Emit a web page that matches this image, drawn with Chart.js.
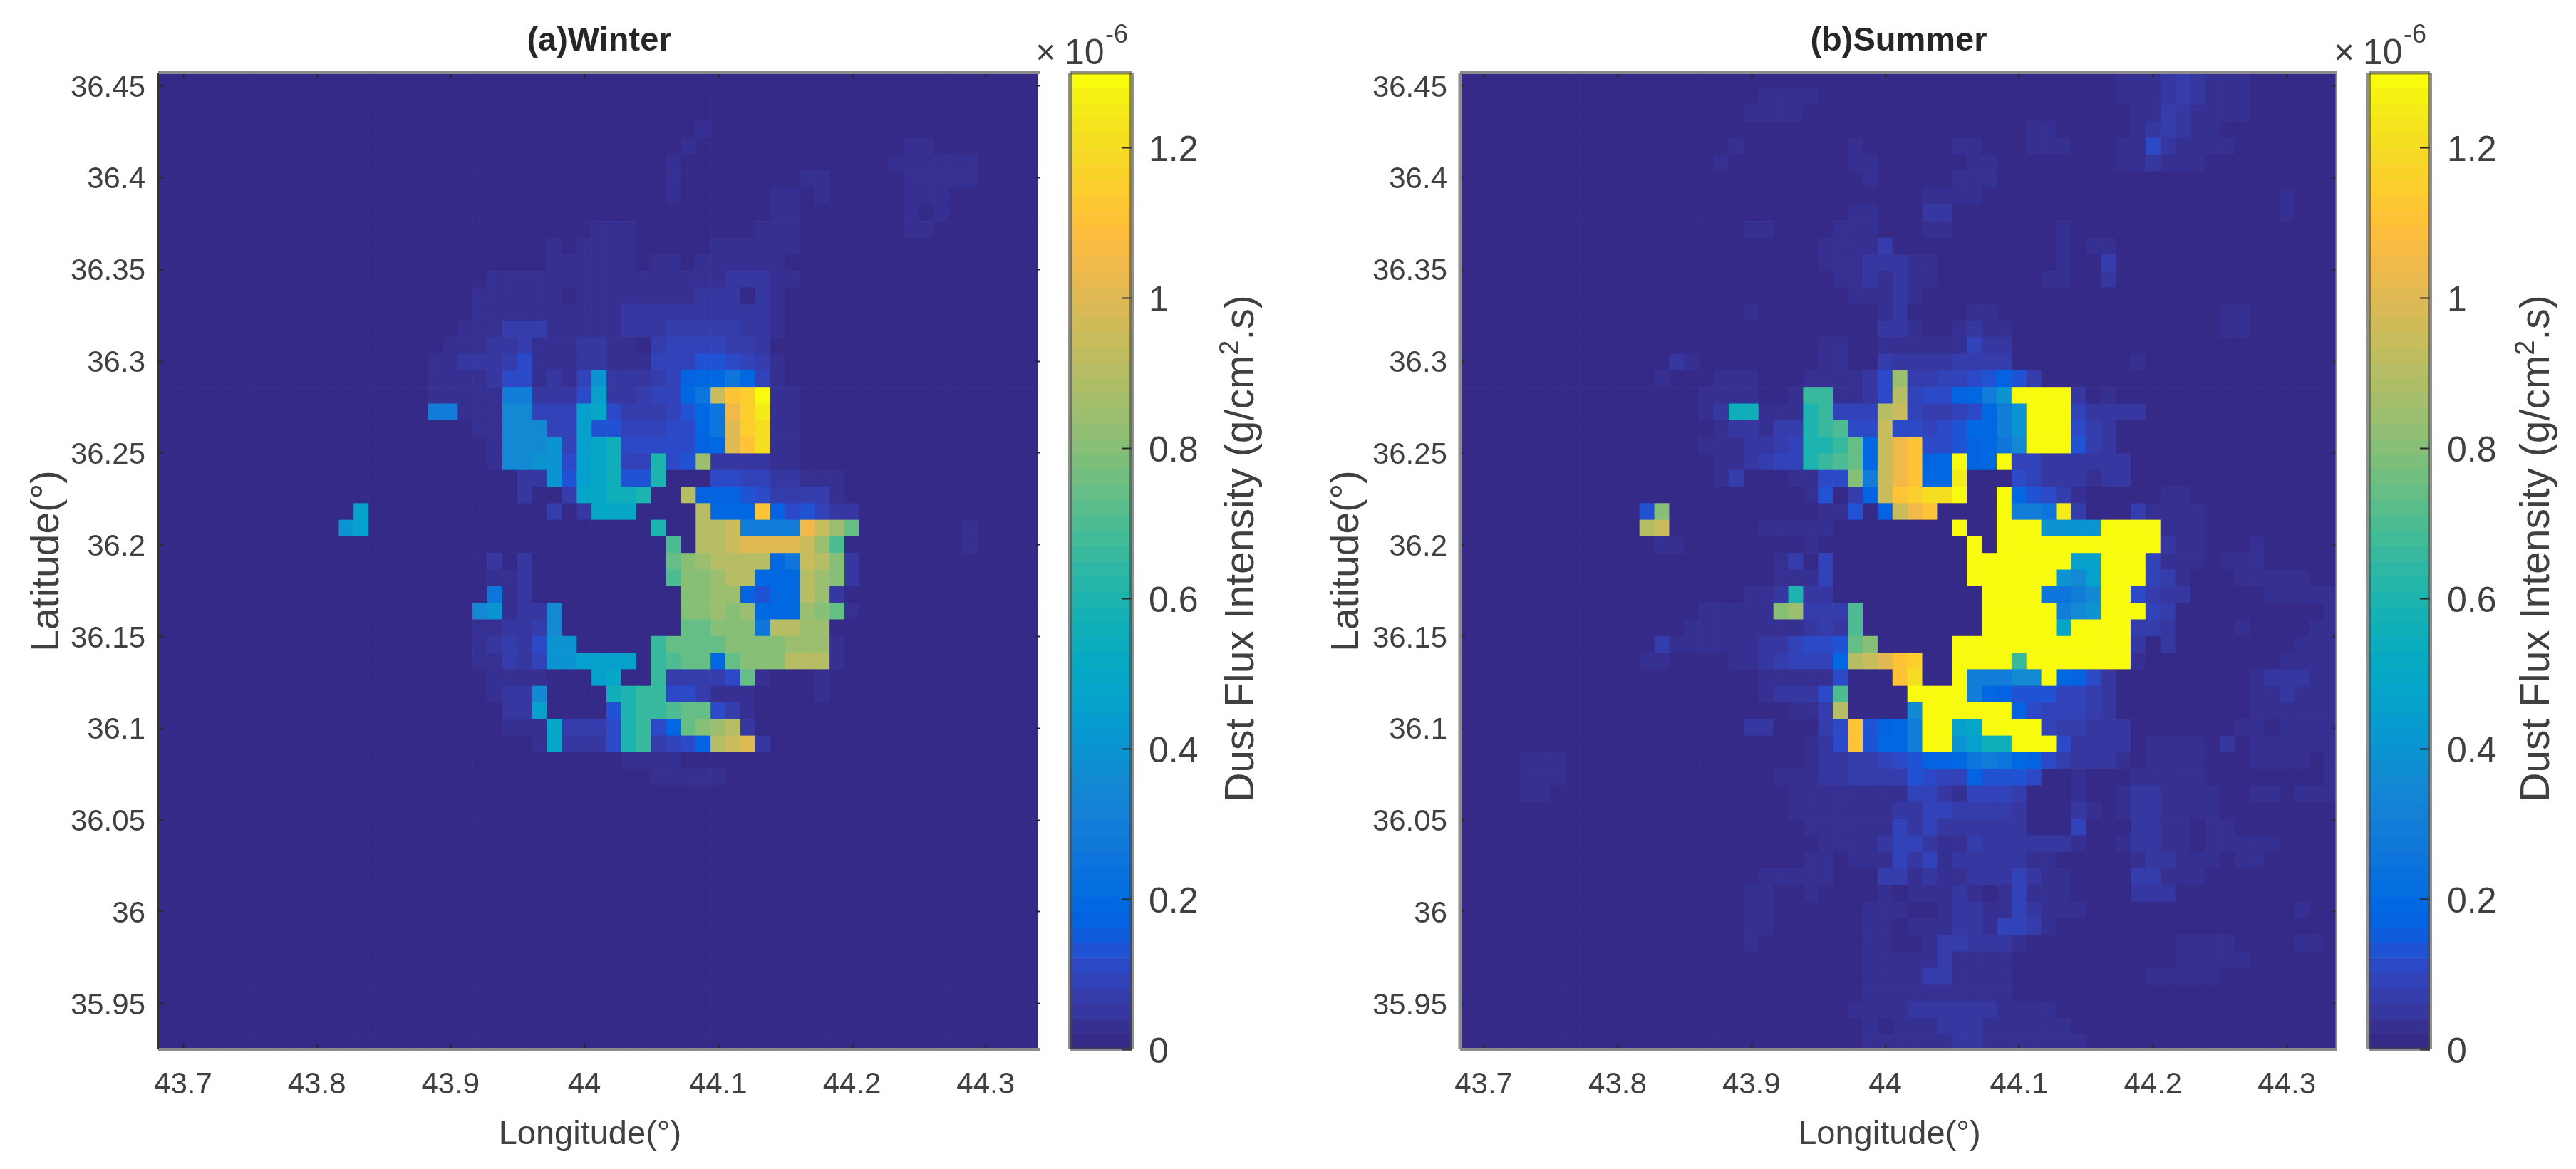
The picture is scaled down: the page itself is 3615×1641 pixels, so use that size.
<!DOCTYPE html>
<html>
<head>
<meta charset="utf-8">
<title>Dust Flux Intensity</title>
<script src="https://cdn.jsdelivr.net/npm/chart.js@4"></script>
<style>
  html, body { margin: 0; padding: 0; background: #fff; width: 3615px; height: 1641px; overflow: hidden; }
  canvas { position: absolute; top: 0; }
</style>
</head>
<body>
<canvas id="winterMap" width="1460" height="1641" style="left:0"></canvas>
<canvas id="winterBar" width="350" height="1641" style="left:1450px"></canvas>
<canvas id="summerMap" width="1450" height="1641" style="left:1830px"></canvas>
<canvas id="summerBar" width="343" height="1641" style="left:3272px"></canvas>
<script>
/* ---------- axes ---------- */
const lonTicks = [43.7, 43.8, 43.9, 44, 44.1, 44.2, 44.3];
const latTicks = [35.95, 36, 36.05, 36.1, 36.15, 36.2, 36.25, 36.3, 36.35, 36.4, 36.45];
const barTicks = [0, 0.2, 0.4, 0.6, 0.8, 1, 1.2];

// grid of the dust model: 60 columns, 59 rows from the top
const lonStart = 43.672, lonStep = 0.011119;
const latStart = 36.4575, latStep = 0.009045;
const colCount = 60, rowCount = 59;

// one character = one flux value (x 1e-6 g/cm2.s)
const levelChars = "0123456789abcdefghijklmnopqrstu";
const levelValues = [0, .03, .05, .07, .09, .11, .13, .17, .2, .25, .3, .35, .4, .45, .5, .55,
  .6, .65, .7, .75, .8, .85, .9, .95, 1, 1.05, 1.1, 1.15, 1.2, 1.25, 1.3];

/* ---------- winter cells: [row, first column, levels] (everything else is 0) ---------- */
const winterCells = [
  [3,37,"1"],[4,36,"1"],[4,51,"11"],[5,35,"1"],[5,50,"111111"],
  [6,35,"1"],[6,44,"11"],[6,51,"11111"],[7,35,"1"],[7,42,"11"],[7,45,"1"],[7,51,"111"],
  [8,42,"11"],[8,51,"1"],[8,53,"1"],[9,30,"111"],[9,41,"111"],[9,51,"11"],
  [10,27,"1"],[10,29,"1111"],[10,38,"111111"],[11,27,"111111"],[11,34,"11"],[11,37,"111111"],
  [12,23,"111111111111111122211"],
  [13,22,"1111110111111112220" + "21"],
  [14,22,"111111111122222222221"],
  [15,21,"11133311111222333332" + "21"],
  [16,20,"11122311122110344443" + "32"],
  [17,19,"1122235111221114446654" + "31"],
  [18,19,"11112551214c2223478898" + "41"],
  [19,19,"11111aa2225d22344" + "89nqru11"],
  [20,19,"aa111bb444de533346" + "89prt11"],
  [21,22,"11bbb44d6644455" + "89ors11"],
  [22,23,"1bbbc4def55555" + "78oqs11"],
  [23,23,"1bbcc5def44g56l222211"],
  [24,25,"22c6def66g00055" + "44" + "22111"],
  [25,25,"2003eeffg00m77765333" + "31"],
  [26,14,"d"],[26,27,"302eee0000m888q75642" + "2"],
  [27,13,"cd"],[27,34,"g"],[27,37,"mmnaaaapnlj"],[27,55,"1"],
  [28,35,"i0mmnoooonli"],[28,55,"1"],
  [29,23,"2"],[29,25,"2"],[29,35,"jklmmmm89nmk2"],
  [30,23,"112"],[30,35,"ikklmm888mlk2"],
  [31,23,"912"],[31,36,"kkll7688ml2"],
  [32,22,"bc122b"],[32,36,"kklkl888lkj1"],
  [33,22,"11223b"],[33,36,"jjkkk9mmll"],
  [34,22,"12325cc"],[34,34,"hjjjjkkkklll1"],
  [35,22,"11324ccdddd"],[35,34,"hijj8jkkkmmm1"],
  [36,23,"1111"],[36,30,"de"],[36,34,"h33335j1"],[36,45,"1"],
  [37,23,"122b"],[37,31,"fghh553111"],[37,45,"1"],
  [38,24,"22d"],[38,31,"6ghhijj531"],
  [39,24,"111e3335gh58jklm2"],
  [40,26,"1e2225gh3457mno2"],
  [41,32,"1111"],[42,34,"11111"]
];

/* ---------- summer cells ---------- */
const summerCells = [
  [0,45,"111232111"],[1,21,"1111"],[1,45,"111232111"],[2,20,"1111"],[2,46,"11321111"],
  [3,39,"11"],[3,46,"123211"],[4,19,"1"],[4,27,"1"],[4,34,"11"],[4,39,"111"],[4,45,"11521111"],
  [5,18,"1"],[5,27,"11"],[5,35,"11"],[5,45,"112111"],[6,28,"1"],[6,34,"111"],
  [7,32,"1111"],[7,56,"1"],[8,27,"11"],[8,32,"22"],[8,56,"1"],
  [9,20,"11"],[9,26,"111"],[9,32,"11"],[9,41,"1"],
  [10,25,"11113"],[10,41,"1"],[10,43,"11"],
  [11,25,"11122211"],[11,41,"1"],[11,44,"3"],
  [12,26,"1121211"],[12,40,"11"],[12,44,"2"],
  [13,27,"11121"],[14,20,"1"],[14,29,"12"],[14,35,"11"],[14,52,"11"],
  [15,29,"221"],[15,34,"1211"],[15,52,"11"],
  [16,25,"11"],[16,29,"111111422"],
  [17,15,"21"],[17,25,"11"],[17,29,"322223333"],[17,46,"1"],
  [18,14,"1"],[18,18,"111"],[18,24,"111125l334456763"],
  [19,17,"1111"],[19,23,"1hh1125m45578acuuuu2"],[19,44,"1"],
  [20,17,"12ff111gh444mn433458acuuu42222"],
  [21,18,"122133ghi55n5545688acuuu532"],
  [22,17,"1112234gghj8npq556789buuu632"],
  [23,18,"112344ghij8npq78u78u44222222"],
  [24,18,"13"],[24,23,"1155kanpq88t00054222122"],
  [25,24,"16037nqrssu00u86531"],[25,48,"11"],
  [26,13,"6k"],[26,25,"11607npq"],[26,37,"uaa9t3"],[26,46,"31111"],
  [27,13,"mn"],[27,21,"11111"],[27,34,"u"],[27,37,"uuu"],[27,40,"cccc"],[27,44,"uuuu"],[27,48,"111"],
  [28,14,"11"],[28,24,"1"],[28,35,"u0uuuuuuuuuuu"],[28,48,"211"],[28,54,"1"],
  [29,22,"13"],[29,25,"4"],[29,35,"uuuuuuu"],[29,42,"dd"],[29,44,"uuu"],[29,47,"4111"],[29,52,"111"],
  [30,22,"1114"],[30,35,"uuuuuu"],[30,41,"cbd"],[30,44,"uuu"],[30,47,"431"],[30,53,"11111"],
  [31,20,"112g22"],[31,36,"uuuu"],[31,40,"99ab"],[31,44,"uu"],[31,46,"5322"],[31,55,"11111"],
  [32,17,"11111"],[32,22,"kl"],[32,24,"333"],[32,27,"i"],[32,36,"uuuuu"],[32,41,"abc"],[32,44,"uuu"],[32,47,"43"],[32,59,"1"],
  [33,16,"111"],[33,19,"11111"],[33,24,"232"],[33,27,"i"],[33,36,"uuuuu"],[33,41,"e"],[33,42,"uuuu"],[33,46,"332"],[33,53,"1"],[33,58,"11"],
  [34,14,"3"],[34,15,"111111"],[34,21,"22"],[34,23,"4"],[34,24,"55"],[34,26,"6"],[34,27,"j"],[34,28,"k"],[34,34,"uuuuuuuuuuuu"],[34,46,"2"],[34,48,"2"],[34,57,"111"],
  [35,13,"11"],[35,19,"11"],[35,21,"2"],[35,22,"3"],[35,23,"444"],[35,26,"8"],[35,27,"mno"],[35,30,"q"],[35,31,"r"],[35,34,"uuuu"],[35,38,"h"],[35,39,"uuuuuuu"],[35,46,"1"],[35,56,"1111"],
  [36,21,"11111"],[36,26,"5"],[36,30,"qs"],[36,34,"u"],[36,35,"aaabb"],[36,40,"u"],[36,41,"8752"],[36,54,"122211"],
  [37,21,"1222"],[37,25,"5"],[37,26,"i"],[37,31,"uuuu"],[37,35,"a87"],[37,38,"666"],[37,41,"4432"],[37,54,"112111"],
  [38,23,"11"],[38,25,"3"],[38,26,"m"],[38,31,"b"],[38,32,"uuuuuu"],[38,38,"7544432"],[38,54,"111111"],
  [39,20,"22"],[39,25,"35q678a"],[39,32,"uu"],[39,34,"de"],[39,36,"uuuu"],[39,40,"4"],[39,41,"33"],[39,43,"222"],[39,53,"11"],[39,56,"1111"],
  [40,24,"125q688auucdffuuu52222"],[40,47,"1111"],[40,52,"2"],[40,54,"111111"],
  [41,5,"111"],[41,24,"122334567789a987532221"],[41,47,"1"],[41,48,"11"],[41,50,"1"],[41,54,"1111"],[41,59,"1"],
  [42,5,"111"],[42,22,"111223333654476665"],[42,42,"1"],[42,46,"11111"],[42,59,"1"],
  [43,5,"11"],[43,23,"1111111144214443"],[43,42,"1"],[43,45,"1"],[43,46,"22"],[43,48,"1111"],[43,54,"11"],[43,57,"111"],
  [44,23,"1111111224433332"],[44,42,"21"],[44,45,"1"],[44,46,"22"],[44,48,"1"],[44,49,"111"],
  [45,24,"111111424222222"],[45,42,"4"],[45,46,"22"],[45,48,"11"],[45,51,"11"],
  [46,25,"111124421132222221"],[46,45,"1"],[46,46,"22"],[46,48,"11"],[46,51,"11"],[46,53,"111"],
  [47,24,"11"],[47,27,"11142412222211"],[47,46,"1"],[47,47,"22"],[47,49,"111"],[47,53,"11"],
  [48,21,"11111"],[48,29,"3312112224211"],[48,46,"33"],[48,48,"111"],
  [49,20,"11"],[49,24,"1"],[49,29,"1"],[49,31,"111"],[49,34,"2"],[49,35,"1"],[49,37,"1"],[49,38,"4"],[49,39,"111"],[49,46,"222"],
  [50,20,"11"],[50,28,"111"],[50,33,"1"],[50,34,"22"],[50,36,"11"],[50,38,"4"],[50,39,"2"],[50,40,"111"],[50,57,"1"],
  [51,20,"11"],[51,28,"11"],[51,31,"111"],[51,34,"22"],[51,36,"1"],[51,37,"44"],[51,39,"3"],[51,40,"1"],
  [52,20,"1"],[52,28,"11"],[52,32,"1"],[52,33,"33"],[52,35,"222"],[52,38,"1"],[52,49,"1111"],[52,57,"11"],
  [53,28,"111"],[53,31,"11"],[53,33,"3"],[53,34,"1111"],[53,49,"11111"],
  [54,28,"1111"],[54,32,"33"],[54,34,"1"],[54,35,"111"],[54,47,"11111"],
  [55,28,"11"],[55,30,"11111"],[55,35,"111"],
  [56,27,"1111"],[56,31,"222222"],[56,37,"1111"],
  [57,28,"1"],[57,30,"111"],[57,33,"222"],[57,36,"111111"],
  [58,28,"111111"],[58,34,"22"],[58,36,"1111111"]
];

const barMax = 1.3;
// parula, 64 steps
const parula = [
  [.2081,.1663,.5292],[.2116,.1898,.5777],[.2123,.2138,.6270],[.2081,.2386,.6771],
  [.1959,.2645,.7279],[.1707,.2919,.7792],[.1253,.3242,.8303],[.0591,.3598,.8683],
  [.0117,.3875,.8820],[.0060,.4086,.8828],[.0165,.4266,.8786],[.0329,.4430,.8720],
  [.0498,.4586,.8641],[.0629,.4737,.8554],[.0723,.4887,.8467],[.0779,.5040,.8384],
  [.0793,.5200,.8312],[.0749,.5375,.8263],[.0641,.5570,.8240],[.0488,.5772,.8228],
  [.0343,.5966,.8199],[.0265,.6137,.8135],[.0239,.6287,.8038],[.0231,.6418,.7913],
  [.0228,.6535,.7768],[.0267,.6642,.7607],[.0384,.6743,.7436],[.0590,.6838,.7254],
  [.0843,.6928,.7062],[.1133,.7015,.6859],[.1453,.7098,.6646],[.1801,.7177,.6424],
  [.2178,.7250,.6193],[.2586,.7317,.5954],[.3022,.7376,.5712],[.3482,.7424,.5473],
  [.3953,.7459,.5244],[.4420,.7481,.5033],[.4871,.7491,.4840],[.5300,.7491,.4661],
  [.5709,.7485,.4494],[.6099,.7473,.4337],[.6473,.7456,.4188],[.6834,.7435,.4044],
  [.7184,.7411,.3905],[.7525,.7384,.3768],[.7858,.7356,.3633],[.8185,.7327,.3498],
  [.8507,.7299,.3360],[.8824,.7274,.3217],[.9139,.7258,.3063],[.9450,.7261,.2886],
  [.9739,.7314,.2666],[.9938,.7455,.2403],[.9990,.7653,.2164],[.9955,.7861,.1967],
  [.9880,.8066,.1794],[.9789,.8271,.1633],[.9697,.8481,.1475],[.9626,.8705,.1309],
  [.9589,.8949,.1132],[.9598,.9218,.0948],[.9661,.9514,.0755],[.9763,.9831,.0538]
];

function rgb(c){
  return `rgb(${Math.round(c[0]*255)},${Math.round(c[1]*255)},${Math.round(c[2]*255)})`;
}

function colorFor(v){
  const i = Math.min(parula.length - 1, Math.floor(v / barMax * parula.length));
  return rgb(parula[i]);
}

// expand the sparse rows into one floating bar per grid cell
function buildDataset(cells){
  const grid = [];
  for (let r = 0; r < rowCount; r++) grid.push(new Array(colCount).fill(0));

  cells.forEach(([row, col, text]) => {
    for (let i = 0; i < text.length; i++) {
      grid[row][col + i] = levelValues[levelChars.indexOf(text[i])];
    }
  });

  const data = [], colors = [];
  grid.forEach((line, r) => {
    line.forEach((v, k) => {
      data.push({
        x: lonStart + (k + 0.5) * lonStep,
        y: [latStart - (r + 1) * latStep, latStart - r * latStep]
      });
      colors.push(colorFor(v));
    });
  });
  return { data, backgroundColor: colors, borderWidth: 0, barPercentage: 1, categoryPercentage: 1 };
}

const tickColor = "#404040";
const fontName = "'Liberation Sans', Arial, sans-serif";

// frame and inward tick marks, drawn after the cells
function framePlugin(frame){
  return {
    id: "frame",
    afterDraw(chart){
      const { ctx, chartArea: a, scales } = chart;
      ctx.save();
      ctx.strokeStyle = "#262626";
      ctx.lineWidth = 2;
      ctx.beginPath();
      const y = scales.y;
      y.ticks.forEach(t => {
        const p = Math.round(y.getPixelForValue(t.value)) + 0.5;
        if (frame.bar) {
          ctx.moveTo(a.right - frame.tick, p); ctx.lineTo(a.right, p);
        } else {
          ctx.moveTo(a.left, p); ctx.lineTo(a.left + frame.tick, p);
          ctx.moveTo(a.right - frame.tick, p); ctx.lineTo(a.right, p);
        }
      });
      if (!frame.bar) {
        const x = scales.x;
        x.ticks.forEach(t => {
          const p = Math.round(x.getPixelForValue(t.value)) + 0.5;
          ctx.moveTo(p, a.bottom); ctx.lineTo(p, a.bottom - frame.tick);
          ctx.moveTo(p, a.top); ctx.lineTo(p, a.top + frame.tick);
        });
      }
      ctx.stroke();

      ctx.lineWidth = frame.width;
      ctx.strokeStyle = frame.color;
      ctx.beginPath();
      ctx.moveTo(a.left, a.top); ctx.lineTo(a.right, a.top);
      ctx.moveTo(a.left, a.bottom); ctx.lineTo(a.right, a.bottom);
      ctx.stroke();
      ctx.strokeStyle = frame.sideColor;
      ctx.lineWidth = frame.sideWidth;
      ctx.beginPath();
      ctx.moveTo(a.left, a.top); ctx.lineTo(a.left, a.bottom);
      ctx.moveTo(a.right, a.top); ctx.lineTo(a.right, a.bottom);
      ctx.stroke();
      ctx.restore();
    }
  };
}

// exponent above the colour bar and the rotated label with its superscript
function barTextPlugin(labelX){
  return {
    id: "barText",
    afterDraw(chart){
      const { ctx, chartArea: a } = chart;
      ctx.save();
      ctx.fillStyle = tickColor;
      ctx.textBaseline = "alphabetic";
      ctx.font = `50px ${fontName}`;
      ctx.fillText("×", a.left - 49, 90);
      ctx.fillText("10", a.left - 8, 90);
      ctx.font = `36px ${fontName}`;
      ctx.fillText("-6", a.left + 49, 60);

      const parts = ["Dust Flux Intensity (g/cm", "2", ".s)"];
      ctx.font = `57px ${fontName}`;
      const w0 = ctx.measureText(parts[0]).width, w2 = ctx.measureText(parts[2]).width;
      ctx.font = `38px ${fontName}`;
      const w1 = ctx.measureText(parts[1]).width;
      ctx.translate(labelX, 770);
      ctx.rotate(-Math.PI / 2);
      ctx.textBaseline = "middle";
      let pos = -(w0 + w1 + w2) / 2;
      ctx.font = `57px ${fontName}`;
      ctx.fillText(parts[0], pos, 0);
      pos += w0;
      ctx.font = `38px ${fontName}`;
      ctx.fillText(parts[1], pos, -15);
      pos += w1;
      ctx.font = `57px ${fontName}`;
      ctx.fillText(parts[2], pos, 0);
      ctx.restore();
    }
  };
}

function drawMap(id, cells, titleText, axisWidth, latTitleGap, xMin, xMax, frame){
  new Chart(document.getElementById(id), {
    type: "bar",
    data: { datasets: [buildDataset(cells)] },
    plugins: [framePlugin(frame)],
    options: {
      responsive: false,
      animation: false,
      events: [],
      layout: { padding: 0 },
      plugins: {
        legend: { display: false },
        tooltip: { enabled: false },
        title: {
          display: true,
          text: titleText,
          fullSize: false,
          color: "#262626",
          font: { family: fontName, size: 47, weight: "bold" },
          padding: { top: 30, bottom: 15.6 }
        }
      },
      scales: {
        x: {
          type: "linear",
          offset: false,
          min: xMin,
          max: xMax,
          afterBuildTicks: s => { s.ticks = lonTicks.map(v => ({ value: v })); },
          afterFit: s => { s.height = 168; },
          grid: { display: false, drawTicks: false },
          border: { display: false },
          ticks: {
            color: tickColor,
            padding: 25,
            autoSkip: false,
            maxRotation: 0,
            font: { family: fontName, size: 42 },
            callback: v => String(v)
          },
          title: {
            display: true,
            text: "Longitude(°)  ",
            color: tickColor,
            font: { family: fontName, size: 47 },
            padding: { top: 0, bottom: 20 }
          }
        },
        y: {
          type: "linear",
          min: latStart - 0.5326,
          max: 36.457,
          afterBuildTicks: s => { s.ticks = latTicks.map(v => ({ value: v })); },
          afterFit: s => { s.width = axisWidth; },
          grid: { display: false, drawTicks: false },
          border: { display: false },
          ticks: {
            color: tickColor,
            padding: 18,
            labelOffset: 4,
            autoSkip: false,
            font: { family: fontName, size: 42 },
            callback: v => String(v)
          },
          title: {
            display: true,
            text: "Latitude(°)",
            color: tickColor,
            font: { family: fontName, size: 55 },
            padding: { top: latTitleGap, bottom: 0 }
          }
        }
      }
    }
  });
}

function drawBar(id, gutter, labelX){
  const data = [], colors = [];
  parula.forEach((c, i) => {
    data.push({ x: 0, y: [i / parula.length * barMax, (i + 1) / parula.length * barMax] });
    colors.push(rgb(c));
  });

  new Chart(document.getElementById(id), {
    type: "bar",
    data: { datasets: [{ data, backgroundColor: colors, borderWidth: 0, barThickness: 86 }] },
    plugins: [
      framePlugin({ bar: true, tick: 14, color: "rgba(70,70,70,.6)", width: 5, sideColor: "rgba(70,70,70,.6)", sideWidth: 6 }),
      barTextPlugin(labelX)
    ],
    options: {
      responsive: false,
      animation: false,
      events: [],
      layout: { padding: { left: 52, top: 102, bottom: 168, right: 0 } },
      plugins: { legend: { display: false }, tooltip: { enabled: false } },
      scales: {
        x: { type: "linear", offset: false, min: -0.5, max: 0.5, display: false },
        y: {
          type: "linear",
          position: "right",
          min: 0,
          max: barMax,
          afterBuildTicks: s => { s.ticks = barTicks.map(v => ({ value: v })); },
          afterFit: s => { s.width = gutter; },
          grid: { display: false, drawTicks: false },
          border: { display: false },
          ticks: {
            color: tickColor,
            padding: 24,
            labelOffset: 5,
            autoSkip: false,
            font: { family: fontName, size: 50 },
            callback: v => String(v)
          }
        }
      }
    }
  });
}

const winterFrame = { tick: 7, color: "#8c8c8c", width: 4, sideColor: "#333", sideWidth: 2 };
const summerFrame = { tick: 7, color: "#8c8c8c", width: 4, sideColor: "#8c8c8c", sideWidth: 5 };

drawMap("winterMap", winterCells, "(a)Winter", 222, 34, 43.6814, 44.3409, winterFrame);
drawBar("winterBar", 212, 293);
drawMap("summerMap", summerCells, "(b)Summer", 219, 28, 43.6824, 44.3377, summerFrame);
drawBar("summerBar", 205, 289);
</script>
</body>
</html>
